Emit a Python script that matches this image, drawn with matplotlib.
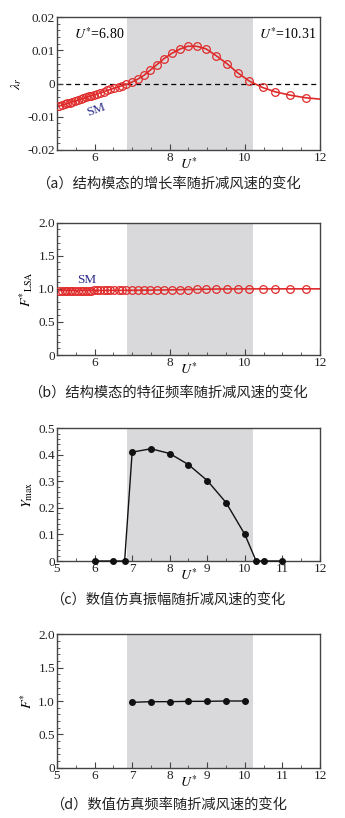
import numpy as np
import matplotlib
matplotlib.use("Agg")
import matplotlib.pyplot as plt
from matplotlib.ticker import MultipleLocator

plt.rcParams['font.family'] = ['Liberation Serif', 'DejaVu Serif']
plt.rcParams['mathtext.fontset'] = 'stix'
plt.rcParams['axes.unicode_minus'] = False

# reduced velocity of the linear stability analysis points
U_lsa = [5.06, 5.13, 5.20, 5.27, 5.34, 5.41, 5.48, 5.55, 5.63, 5.70, 5.77,
         5.84, 5.91, 5.99, 6.07, 6.15, 6.24, 6.33, 6.42, 6.52, 6.64, 6.73,
         6.83, 6.99, 7.15, 7.32, 7.48, 7.66, 7.85, 8.06, 8.28, 8.48, 8.72,
         8.97, 9.23, 9.52, 9.81, 10.11, 10.47, 10.81, 11.20, 11.62]
# growth rate of the structural mode
lam_r = [-0.0068, -0.0065, -0.0063, -0.0060, -0.0058, -0.0055, -0.0053,
         -0.0050, -0.0047, -0.0045, -0.0042, -0.0039, -0.0037, -0.0034,
         -0.0031, -0.0028, -0.0025, -0.0021, -0.0018, -0.0014, -0.0010,
         -0.0007, -0.0003, 0.0004, 0.0013, 0.0025, 0.0040, 0.0057, 0.0075,
         0.0091, 0.0104, 0.0112, 0.0112, 0.0104, 0.0084, 0.0060, 0.0032,
         0.0008, -0.0012, -0.0025, -0.0035, -0.0043]
lam_r_end = -0.0047   # curve value at U*=12
# eigen frequency of the structural mode
F_lsa = [0.975, 0.975, 0.975, 0.975, 0.975, 0.975, 0.975, 0.975, 0.975,
         0.975, 0.975, 0.975, 0.975, 0.976, 0.976, 0.976, 0.976, 0.976,
         0.977, 0.977, 0.977, 0.977, 0.978, 0.978, 0.979, 0.980, 0.981,
         0.982, 0.983, 0.985, 0.987, 0.990, 0.993, 0.995, 0.997, 0.998,
         0.999, 1.000, 1.000, 1.000, 1.000, 1.000]
F_lsa_end = 1.000

# numerical simulation
U_sim = [6.0, 6.5, 6.8, 7.0, 7.5, 8.0, 8.5, 9.0, 9.5, 10.0, 10.3, 10.5, 11.0]
Y_max = [0.0, 0.0, 0.0, 0.41, 0.423, 0.405, 0.363, 0.303, 0.22, 0.10, 0.0, 0.0, 0.0]
U_freq = [7.0, 7.5, 8.0, 8.5, 9.0, 9.5, 10.0]
F_sim = [0.98, 0.99, 0.99, 0.995, 0.995, 1.0, 1.0]

# lock-in range (shaded)
U_lo, U_hi = 6.86, 10.22

captions = ['（a）结构模态的增长率随折减风速的变化',
            '（b）结构模态的特征频率随折减风速的变化',
            '（c）数值仿真振幅随折减风速的变化',
            '（d）数值仿真频率随折减风速的变化']

red = '#e02a2a'
navy = '#2b2b8c'
fs = 9.5

fig = plt.figure(figsize=(3.45, 8.18), dpi=100)
W, H = 345.0, 818.0
boxes = [(17, 150), (222.7, 355), (428.3, 561), (634.3, 767.7)]
axes = []
for top, bot in boxes:
    ax = fig.add_axes([57 / W, 1 - bot / H, 263 / W, (bot - top) / H])
    axes.append(ax)


def style(ax):
    ax.axvspan(U_lo, U_hi, color='#d9d9db', lw=0, zorder=0)
    ax.set_xlim(5, 12)
    ax.xaxis.set_minor_locator(MultipleLocator(0.5))
    ax.tick_params(which='both', direction='in', labelsize=fs, top=False, right=False,
                   color='#444444', labelcolor='#222222', pad=1.5)
    ax.tick_params(which='major', length=4, width=0.8)
    ax.tick_params(which='minor', length=2, width=0.6)
    for s in ax.spines.values():
        s.set_color('#444444')
        s.set_linewidth(1.0)
    ax.set_xlabel(r'$U^{*}$', fontsize=fs + 0.5)
    ax.xaxis.label.set_va('center')
    ax.xaxis.set_label_coords(0.5, -0.108)


# (a)
ax = axes[0]
style(ax)
ax.axhline(0, color='k', ls='--', lw=0.9, dashes=(4, 3), zorder=1)
ax.plot(U_lsa + [12], lam_r + [lam_r_end], color=red, lw=1.2, zorder=2)
ax.plot(U_lsa, lam_r, 'o', mfc='none', mec=red, ms=5.5, mew=0.9, zorder=3)
ax.set_ylim(-0.02, 0.02)
ax.set_yticks([-0.02, -0.01, 0, 0.01, 0.02])
ax.set_yticklabels(['-0.02', '-0.01', '0', '0.01', '0.02'])
ax.yaxis.set_minor_locator(MultipleLocator(0.002))
ax.set_xticks([6, 8, 10, 12])
ax.set_ylabel(r'$\lambda_r$', fontsize=fs + 0.5, labelpad=2)
ax.text(5.45, 0.015, r'$U^{*}$=6.80', fontsize=fs + 0.5, va='center')
ax.text(11.9, 0.015, r'$U^{*}$=10.31', fontsize=fs + 0.5, va='center', ha='right')
ax.text(6.05, -0.0078, 'SM', color=navy, fontsize=fs, rotation=20,
        ha='center', va='center')

# (b)
ax = axes[1]
style(ax)
ax.plot(U_lsa + [12], F_lsa + [F_lsa_end], color=red, lw=1.2, zorder=2)
ax.plot(U_lsa, F_lsa, 'o', mfc='none', mec=red, ms=5.5, mew=0.9, zorder=3)
ax.set_ylim(0, 2.0)
ax.set_yticks([0, 0.5, 1.0, 1.5, 2.0])
ax.set_yticklabels(['0', '0.5', '1.0', '1.5', '2.0'])
ax.yaxis.set_minor_locator(MultipleLocator(0.1))
ax.set_xticks([6, 8, 10, 12])
ax.set_ylabel(r'$F^{*}{}_{\rm LSA}$', fontsize=fs + 0.5, labelpad=2)
ax.text(5.78, 1.13, 'SM', color=navy, fontsize=fs, ha='center', va='center')

# (c)
ax = axes[2]
style(ax)
ax.plot(U_sim, Y_max, '-o', color='#111111', lw=1.0, ms=4, zorder=3, clip_on=False)
ax.set_ylim(0, 0.5)
ax.set_yticks([0, 0.1, 0.2, 0.3, 0.4, 0.5])
ax.set_yticklabels(['0', '0.1', '0.2', '0.3', '0.4', '0.5'])
ax.yaxis.set_minor_locator(MultipleLocator(0.02))
ax.set_xticks(range(5, 13))
ax.set_ylabel(r'$Y_{\rm max}$', fontsize=fs + 0.5, labelpad=2)

# (d)
ax = axes[3]
style(ax)
ax.plot(U_freq, F_sim, '-o', color='#111111', lw=1.0, ms=4, zorder=3)
ax.set_ylim(0, 2.0)
ax.set_yticks([0, 0.5, 1.0, 1.5, 2.0])
ax.set_yticklabels(['0', '0.5', '1.0', '1.5', '2.0'])
ax.yaxis.set_minor_locator(MultipleLocator(0.1))
ax.set_xticks(range(5, 13))
ax.set_ylabel(r'$F^{*}$', fontsize=fs + 0.5, labelpad=2)

cap_y = [184, 393, 599.5, 804.5]
for cy, txt in zip(cap_y, captions):
    fig.text(168 / W, 1 - cy / H, txt, ha='center', va='center', fontsize=10.3,
             family=['Noto Sans CJK SC', 'DejaVu Sans'], color='#222222')

fig.savefig('out.png', dpi=100)
